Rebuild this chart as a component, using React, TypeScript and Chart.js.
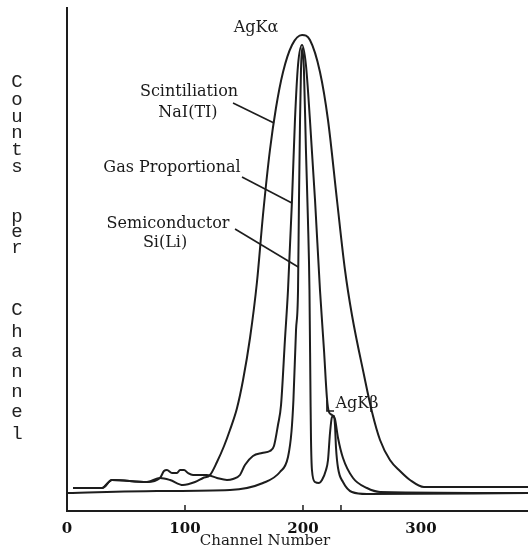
import React, { useEffect, useRef } from "react";
import { Chart, registerables } from "chart.js";

Chart.register(...registerables);

// ---------- data (channel number vs. counts per channel, arbitrary units) ----------
const seriesNames = ["Scintillation NaI(Tl)", "Gas Proportional", "Semiconductor Si(Li)"];

const naiChannels = [5.1, 29.7, 38.1, 67.8, 78.8, 87.3, 98.3, 108.5, 115.3, 121.2, 127.1, 133.1, 138.1, 144.1, 149.2, 155.1, 161.0, 166.1, 172.0, 177.1, 183.1, 190.7, 199.2, 205.9, 214.4, 221.2, 228.8, 235.6, 241.5, 251.7, 258.5, 265.3, 273.7, 282.2, 290.7, 302.5, 390.7];
const naiCounts = [23, 23, 31, 29, 33, 31, 26, 29, 33, 36, 49, 65, 81, 103, 131, 173, 229, 296, 361, 403, 439, 466, 476, 471, 439, 391, 311, 241, 196, 136, 99, 71, 51, 40, 31, 24, 24];

const gasChannels = [5.1, 29.7, 38.1, 67.8, 78.8, 82.2, 84.7, 89.0, 93.2, 95.8, 99.2, 102.5, 106.8, 118.6, 127.1, 135.6, 140.7, 146.6, 150.8, 157.6, 165.3, 172.0, 175.4, 178.8, 181.4, 184.7, 187.3, 190.7, 193.2, 195.8, 199.2, 202.5, 205.9, 210.2, 214.4, 217.8, 220.3, 222.0, 224.6, 227.1, 229.7, 233.9, 242.4, 254.2, 265.3, 390.7];
const gasCounts = [23, 23, 31, 29, 33, 40, 41, 38, 38, 41, 41, 38, 36, 36, 33, 31, 32, 36, 46, 55, 58, 60, 65, 86, 106, 171, 221, 311, 391, 446, 466, 446, 391, 311, 221, 161, 113, 99, 96, 92, 73, 53, 33, 23, 19, 18];

const siChannels = [0, 76.3, 138.1, 166.1, 180.5, 187.3, 190.3, 191.9, 194.1, 195.8, 196.6, 197.5, 198.3, 199.2, 200.8, 202.5, 204.2, 205.5, 206.4, 206.8, 207.6, 210.2, 213.6, 216.1, 219.5, 221.2, 222.9, 224.6, 226.3, 227.1, 228.0, 229.7, 233.9, 241.5, 254.2, 390.7];
const siCounts = [18, 20, 21, 28, 39, 54, 80, 111, 181, 221, 311, 391, 441, 463, 441, 361, 291, 221, 111, 71, 41, 29, 28, 31, 41, 51, 78, 94, 95, 86, 63, 43, 29, 19, 17, 18];

const xTickValues = [0, 100, 200, 300];
const markerChannels = [100, 200, 232.2];
const X_MAX = 390.7;
const Y_MAX = 503;

const X_TITLE = "Channel Number";
const Y_TITLE = "Counts per Channel";

// annotation texts, anchored in data coordinates
const noteTexts = ["AgKα", "Scintiliation", "NaI(TI)", "Gas Proportional", "Semiconductor", "Si(Li)", "AgKβ"];
const noteChannels = [160.2, 103.4, 102.5, 89.0, 85.6, 83.1, 245.8];
const noteCounts = [483, 419, 398, 343, 287, 268, 107];

// leader lines (data coordinates)
const leaders: number[][][] = [
  [[140.7, 408], [175.4, 388]],
  [[148.3, 334], [190.6, 308]],
  [[142.4, 282], [196.0, 244]],
  [[220.3, 111], [220.3, 100], [226.3, 100]],
];

// ---------- styling ----------
const INK = "#1d1d1d";
const SERIF = '"DejaVu Serif", serif';
const MONO = '"Liberation Mono", monospace';
const Y_TITLE_LETTER_Y = [82, 100, 117, 133, 150, 167, 217, 232, 248, 310, 332, 352, 372, 392, 412, 434];

const overlay = {
  id: "overlay",
  beforeDraw(chart: any) {
    const { ctx, width, height } = chart;
    ctx.save();
    ctx.fillStyle = "#ffffff";
    ctx.fillRect(0, 0, width, height);
    ctx.restore();
  },
  afterDraw(chart: any) {
    const { ctx } = chart;
    const xs = chart.scales.x;
    const ys = chart.scales.y;
    const px = (v: number) => xs.getPixelForValue(v);
    const py = (v: number) => ys.getPixelForValue(v);
    ctx.save();

    // small upward tick marks on the x axis
    ctx.strokeStyle = INK;
    ctx.lineWidth = 1.5;
    const base = chart.chartArea.bottom;
    markerChannels.forEach((c) => {
      ctx.beginPath();
      ctx.moveTo(px(c), base);
      ctx.lineTo(px(c), base - 6);
      ctx.stroke();
    });

    // leader lines
    ctx.lineWidth = 1.6;
    leaders.forEach((pts) => {
      ctx.beginPath();
      pts.forEach((p, i) => {
        if (i === 0) ctx.moveTo(px(p[0]), py(p[1]));
        else ctx.lineTo(px(p[0]), py(p[1]));
      });
      ctx.stroke();
    });

    // annotations
    ctx.fillStyle = "#1a1a1a";
    ctx.textAlign = "center";
    ctx.textBaseline = "middle";
    noteTexts.forEach((t, i) => {
      ctx.font = `16px ${SERIF}`;
      ctx.fillText(t, px(noteChannels[i]), py(noteCounts[i]));
    });

    // x-axis title
    ctx.font = `15px ${SERIF}`;
    ctx.fillText(X_TITLE, 265, 541);

    // stacked y-axis title
    ctx.font = `19px ${MONO}`;
    ctx.fillStyle = "#222222";
    const letters = Y_TITLE.replace(/ /g, "").split("");
    letters.forEach((ch, i) => {
      ctx.fillText(ch, 17, Y_TITLE_LETTER_Y[i]);
    });

    ctx.restore();
  },
};

export default function App() {
  const ref = useRef<HTMLCanvasElement>(null);

  useEffect(() => {
    document.body.style.margin = "0";
    const canvas = ref.current;
    if (!canvas) return;
    const toPts = (xv: number[], yv: number[]) => xv.map((x, i) => ({ x, y: yv[i] }));
    const lineStyle = {
      borderColor: INK,
      backgroundColor: INK,
      borderWidth: 2,
      pointRadius: 0,
      showLine: true,
      fill: false,
      cubicInterpolationMode: "monotone" as const,
    };
    const chart = new Chart(canvas, {
      type: "scatter",
      data: {
        datasets: [
          { label: seriesNames[0], data: toPts(naiChannels, naiCounts), ...lineStyle },
          { label: seriesNames[1], data: toPts(gasChannels, gasCounts), ...lineStyle },
          { label: seriesNames[2], data: toPts(siChannels, siCounts), ...lineStyle },
        ],
      },
      options: {
        responsive: false,
        animation: false,
        layout: { padding: { top: 8, left: 0, right: 0, bottom: 0 } },
        plugins: { legend: { display: false }, tooltip: { enabled: false } },
        scales: {
          x: {
            type: "linear",
            min: 0,
            max: X_MAX,
            grid: { display: false, drawTicks: false },
            border: { display: true, color: INK, width: 2 },
            ticks: {
              font: { family: SERIF, size: 15, weight: "bold" },
              color: "#111",
              padding: 9,
              maxRotation: 0,
            },
            afterBuildTicks: (s: any) => {
              s.ticks = xTickValues.map((v) => ({ value: v }));
            },
            afterFit: (s: any) => {
              s.height = 40;
            },
          },
          y: {
            type: "linear",
            min: 0,
            max: Y_MAX,
            grid: { display: false, drawTicks: false },
            border: { display: true, color: INK, width: 2 },
            ticks: { display: false },
            afterFit: (s: any) => {
              s.width = 67;
            },
          },
        },
      } as any,
      plugins: [overlay],
    });
    return () => chart.destroy();
  }, []);

  return <canvas ref={ref} width={528} height={551} style={{ display: "block" }} />;
}
